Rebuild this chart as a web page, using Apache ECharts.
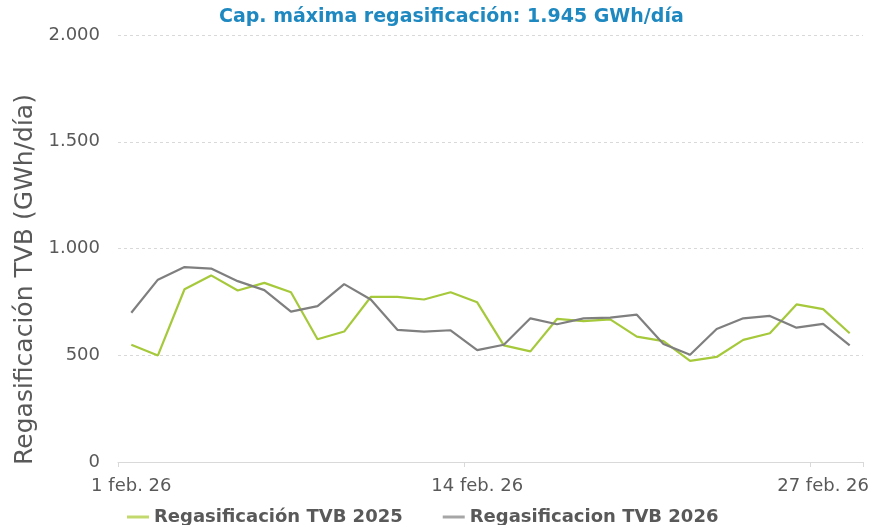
<!DOCTYPE html>
<html>
<head>
<meta charset="utf-8">
<script src="https://cdn.jsdelivr.net/npm/echarts@6/dist/echarts.min.js"></script>
<style>
html,body{margin:0;padding:0;background:#fff;}
#chart{width:875px;height:525px;}
</style>
</head>
<body>
<div id="chart"></div>
<script>
var titleText = 'Cap. máxima regasificación: 1.945 GWh/día';
var yAxisName = 'Regasificación TVB (GWh/día)';
var days = [];
for (var d = 1; d <= 28; d++) { days.push(d + ' feb. 26'); }
var seriesNames = ['Regasificación TVB 2025', 'Regasificacion TVB 2026'];
var tvb2025 = [549, 499, 809, 874, 803, 839, 795, 575, 611, 773, 773, 761, 795, 748, 546, 518, 670, 660, 668, 587, 566, 474, 492, 572, 603, 738, 716, 603];
var tvb2026 = [699, 854, 913, 906, 847, 805, 704, 730, 833, 761, 619, 611, 617, 524, 549, 673, 645, 673, 676, 690, 553, 502, 623, 673, 684, 629, 647, 546];
var yTicks = [0, 500, 1000, 1500, 2000];

function fmtThousands(v) {
  return String(v).replace(/\B(?=(\d{3})+(?!\d))/g, '.');
}

var chart = echarts.init(document.getElementById('chart'), null, {renderer: 'canvas'});
chart.setOption({
  animation: false,
  backgroundColor: '#ffffff',
  title: {
    text: titleText,
    left: 214,
    top: 3,
    textStyle: {fontFamily: 'DejaVu Sans', fontWeight: 'bold', fontSize: 19, color: '#1e88c0'}
  },
  legend: {
    top: 503,
    left: 122,
    itemGap: 40,
    itemWidth: 22,
    itemHeight: 3,
    icon: 'rect',
    textStyle: {fontFamily: 'DejaVu Sans', fontWeight: 'bold', fontSize: 18, color: '#595959'},
    data: [
      {name: seriesNames[0], itemStyle: {color: '#c2d96e'}},
      {name: seriesNames[1], itemStyle: {color: '#a6a6a6'}}
    ]
  },
  grid: {left: 118, right: 12, top: 35, bottom: 63, containLabel: false},
  xAxis: {
    type: 'category',
    data: days,
    boundaryGap: true,
    axisLine: {lineStyle: {color: '#d9d9d9', width: 1}},
    axisTick: {show: true, interval: 12, length: 5, lineStyle: {color: '#d9d9d9'}},
    axisLabel: {interval: 12, fontFamily: 'DejaVu Sans', fontSize: 18, color: '#595959', margin: 15},
    splitLine: {show: false}
  },
  yAxis: {
    type: 'value',
    min: yTicks[0],
    max: yTicks[yTicks.length - 1],
    interval: 500,
    name: yAxisName,
    nameLocation: 'middle',
    nameGap: 75,
    nameTextStyle: {fontFamily: 'DejaVu Sans', fontSize: 25, color: '#595959', padding: [0, 62, 0, 0]},
    axisLine: {show: false},
    axisTick: {show: false},
    axisLabel: {fontFamily: 'DejaVu Sans', fontSize: 18, color: '#595959', margin: 18, formatter: fmtThousands},
    splitLine: {lineStyle: {color: '#d9d9d9', type: [3, 3], width: 1}}
  },
  series: [
    {
      name: seriesNames[0],
      type: 'line',
      data: tvb2025,
      showSymbol: false,
      symbol: 'none',
      lineStyle: {color: '#a5c93a', width: 2.2},
      itemStyle: {color: '#a5c93a'}
    },
    {
      name: seriesNames[1],
      type: 'line',
      data: tvb2026,
      showSymbol: false,
      symbol: 'none',
      lineStyle: {color: '#7f7f7f', width: 2.2},
      itemStyle: {color: '#7f7f7f'}
    }
  ]
});
</script>
</body>
</html>
